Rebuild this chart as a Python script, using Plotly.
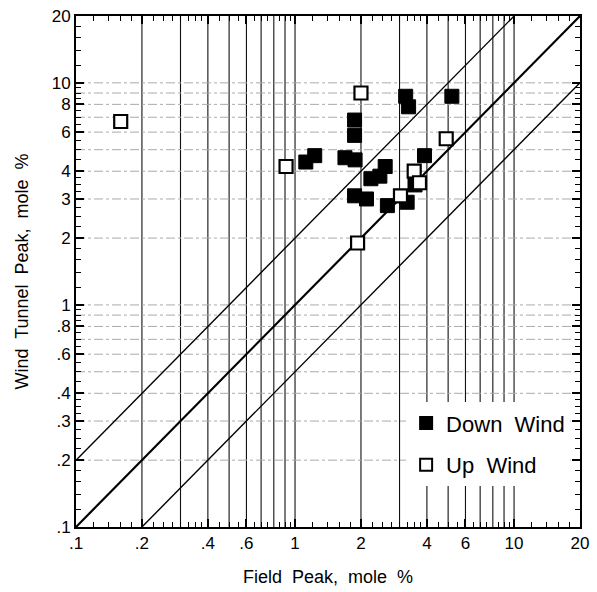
import numpy as np
import plotly.graph_objects as go

# ---- data ----
down_x = [3.2, 3.3, 5.2, 1.87, 1.87, 1.23, 1.12, 1.69, 1.88, 3.9, 2.58, 2.44, 2.22, 1.87, 2.12, 2.64, 3.53, 3.25]
down_y = [8.7, 7.8, 8.7, 6.8, 5.8, 4.7, 4.4, 4.6, 4.5, 4.7, 4.2, 3.8, 3.7, 3.1, 3.0, 2.8, 3.47, 2.9]
up_x = [0.16, 0.91, 2.0, 4.9, 3.5, 3.7, 3.03, 1.93]
up_y = [6.7, 4.2, 9.0, 5.6, 4.0, 3.55, 3.1, 1.9]

x_ticks = [0.1, 0.2, 0.4, 0.6, 1, 2, 4, 6, 10, 20]
x_ticktext = [".1", ".2", ".4", ".6", "1", "2", "4", "6", "10", "20"]
y_ticks = [0.1, 0.2, 0.3, 0.4, 0.6, 0.8, 1, 2, 3, 4, 6, 8, 10, 20]
y_ticktext = [".1", ".2", ".3", ".4", ".6", ".8", "1", "2", "3", "4", "6", "8", "10", "20"]

grid_vals = [0.2, 0.3, 0.4, 0.5, 0.6, 0.7, 0.8, 0.9, 1, 2, 3, 4, 5, 6, 7, 8, 9, 10]
minor_vals = ([0.12, 0.14, 0.16, 0.18, 0.225, 0.25, 0.275, 0.3, 0.325, 0.35, 0.375,
               0.45, 0.5, 0.55, 0.65, 0.7, 0.75, 0.85, 0.9, 0.95,
               1.2, 1.4, 1.6, 1.8, 2.25, 2.5, 2.75, 3, 3.25, 3.5, 3.75,
               4.5, 5, 5.5, 6.5, 7, 7.5, 8.5, 9, 9.5, 12, 14, 16, 18])
lo, hi = 0.1, 20
ratio_lines = [1, 2, 0.5]

fig = go.Figure()

# gridlines
for v in grid_vals:
    fig.add_trace(go.Scatter(x=[v, v], y=[lo, hi], mode="lines",
                             line=dict(color="#111", width=1.1), showlegend=False, hoverinfo="skip"))
for v in grid_vals:
    fig.add_trace(go.Scatter(x=[lo, hi], y=[v, v], mode="lines",
                             line=dict(color="#aaa", width=1, dash="dashdot"), showlegend=False, hoverinfo="skip"))

# ratio lines
for r in ratio_lines:
    xs = np.array([lo, hi])
    ys = xs * r
    fig.add_trace(go.Scatter(x=xs, y=ys, mode="lines",
                             line=dict(color="black", width=2.2 if r == 1 else 1.4),
                             showlegend=False, hoverinfo="skip"))

fig.add_trace(go.Scatter(x=down_x, y=down_y, mode="markers", name="Down  Wind",
                         legendgroup="a",
                         marker=dict(symbol="square", size=14, color="black",
                                     line=dict(color="black", width=1))))
fig.add_trace(go.Scatter(x=up_x, y=up_y, mode="markers", name="Up  Wind",
                         legendgroup="b",
                         marker=dict(symbol="square", size=13, color="white",
                                     line=dict(color="black", width=2.2))))

font_family = "Liberation Sans, Arial, sans-serif"
axis_common = dict(type="log", showgrid=False, zeroline=False, showline=True, mirror="ticks",
                   linecolor="black", linewidth=2, ticks="inside", ticklen=8, tickwidth=1.5,
                   tickcolor="black", tickfont=dict(size=17, color="black", family=font_family),
                   automargin=False,
                   minor=dict(tickvals=minor_vals, ticks="inside", ticklen=5, tickwidth=1.2,
                              tickcolor="black", showgrid=False))

fig.update_layout(
    width=597, height=592,
    margin=dict(l=76, r=17, t=16, b=65),
    paper_bgcolor="white", plot_bgcolor="white",
    font=dict(family=font_family, color="black"),
    xaxis=dict(**axis_common, range=[np.log10(lo), np.log10(hi)], tickmode="array",
               tickvals=x_ticks, ticktext=x_ticktext,
               title=dict(text="Field  Peak,  mole  %", font=dict(size=18), standoff=18)),
    yaxis=dict(**axis_common, range=[np.log10(lo), np.log10(hi)], tickmode="array",
               tickvals=y_ticks, ticktext=y_ticktext,
               title=dict(text="Wind  Tunnel  Peak,  mole  %", font=dict(size=18), standoff=18)),
    legend=dict(x=0.655, y=0.244, xanchor="left", yanchor="top", bgcolor="white",
                borderwidth=0, font=dict(size=22, color="black", family=font_family),
                tracegroupgap=10, traceorder="grouped", itemsizing="constant"),
)

fig.write_html("out.html")
